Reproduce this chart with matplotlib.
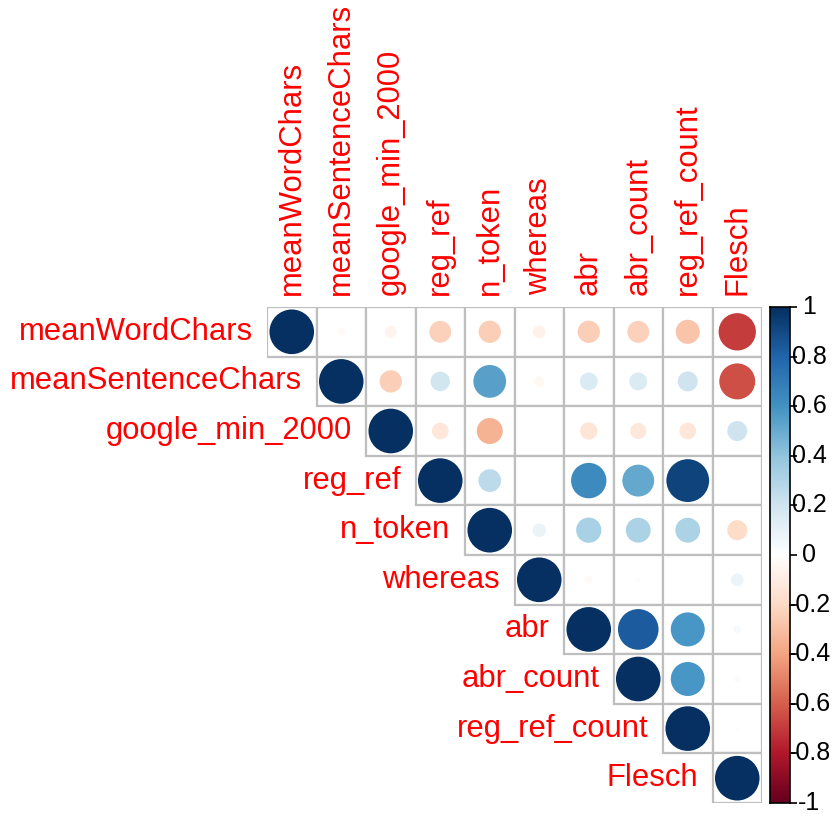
import numpy as np
import matplotlib
matplotlib.use("Agg")
import matplotlib.pyplot as plt
from matplotlib.colors import LinearSegmentedColormap
from matplotlib.patches import Circle, Rectangle

plt.rcParams["font.family"] = ["Liberation Sans", "DejaVu Sans"]
plt.rcParams["axes.unicode_minus"] = False

# variables, in plot order
names = ["meanWordChars", "meanSentenceChars", "google_min_2000", "reg_ref",
         "n_token", "whereas", "abr", "abr_count", "reg_ref_count", "Flesch"]

# upper-triangle correlations, row by row (values to the right of the diagonal)
upper = [
    [-0.03, -0.07, -0.24, -0.25, -0.08, -0.25, -0.24, -0.29, -0.70],
    [-0.25, 0.19, 0.54, -0.05, 0.16, 0.16, 0.20, -0.65],
    [-0.14, -0.34, -0.01, -0.15, -0.13, -0.14, 0.20],
    [0.26, 0.00, 0.63, 0.51, 0.92, -0.01],
    [0.09, 0.32, 0.31, 0.31, -0.20],
    [-0.03, 0.01, 0.005, 0.08],
    [0.83, 0.58, 0.03],
    [0.58, 0.02],
    [0.01],
    [],
]

cb_ticks = [-1, -0.8, -0.6, -0.4, -0.2, 0, 0.2, 0.4, 0.6, 0.8, 1]

n = len(names)
corr = np.eye(n)
for i, row in enumerate(upper):
    for k, v in enumerate(row):
        j = i + 1 + k
        corr[i, j] = v
        corr[j, i] = v

# corrplot default palette (COL2 'RdBu')
cmap = LinearSegmentedColormap.from_list(
    "rdbu", ["#67001F", "#B2182B", "#D6604D", "#F4A582", "#FDDBC7", "#FFFFFF",
             "#D1E5F0", "#92C5DE", "#4393C3", "#2166AC", "#053061"], N=200)

W, H = 838, 817
fig = plt.figure(figsize=(W / 100, H / 100), dpi=100)

gl, gr, gt, gb = 267, 762, 307, 803
ax = fig.add_axes([gl / W, 1 - gb / H, (gr - gl) / W, (gb - gt) / H])
ax.set_xlim(0, n)
ax.set_ylim(n, 0)
ax.axis("off")

for i in range(n):
    for j in range(i, n):
        ax.add_patch(Rectangle((j, i), 1, 1, facecolor="white", edgecolor="#BEBEBE",
                               linewidth=1.6, zorder=1))
for i in range(n):
    for j in range(i, n):
        r = corr[i, j]
        c = cmap((r + 1) / 2)
        ax.add_patch(Circle((j + 0.5, i + 0.5), 0.45 * np.sqrt(abs(r)),
                            facecolor=c, edgecolor="none", zorder=2))

lab_size = 22.3
for i, nm in enumerate(names):
    ax.text(i - 0.29, i + 0.5, nm, color="red", fontsize=lab_size,
            ha="right", va="center", clip_on=False)
    ax.text(i + 0.5, -0.24, nm, color="red", fontsize=lab_size,
            ha="center", va="bottom", rotation=90, clip_on=False)

# colour bar
cl, cr = 770, 790
cax = fig.add_axes([cl / W, 1 - gb / H, (cr - cl) / W, (gb - gt) / H])
grad = np.linspace(-1, 1, 200).reshape(-1, 1)
cax.imshow(grad, cmap=cmap, aspect="auto", origin="lower",
           extent=[0, 1, -1, 1], vmin=-1, vmax=1)
cax.set_ylim(-1, 1)
cax.set_xticks([])
cax.yaxis.tick_right()
cax.set_yticks(cb_ticks)
cax.set_yticklabels([])
cax.tick_params(axis="y", length=5, width=1.2)
for t in cb_ticks:
    cax.text((809 - cl) / (cr - cl), t, "%g" % t, transform=cax.get_yaxis_transform(),
             ha="center", va="center", fontsize=18, clip_on=False)
for s in cax.spines.values():
    s.set_linewidth(1.2)

fig.savefig("out.png", dpi=100)
